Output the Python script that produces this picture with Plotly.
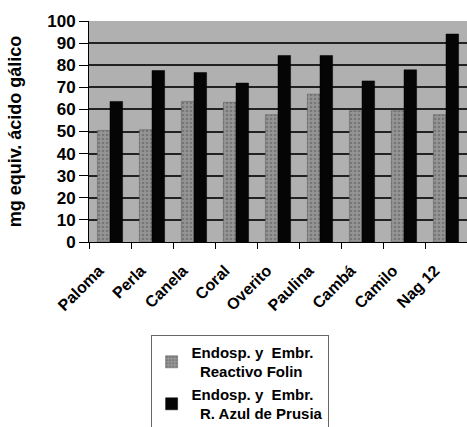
import plotly.graph_objects as go

categories = ["Paloma", "Perla", "Canela", "Coral", "Overito", "Paulina", "Cambá", "Camilo", "Nag 12"]
folin = [50.5, 50.8, 63.6, 63.2, 57.6, 66.9, 59.4, 59.4, 57.6]
prusia = [63.6, 77.6, 76.7, 71.9, 84.4, 84.4, 72.9, 77.9, 94.1]
series_names = ["Endosp. y  Embr.<br>  Reactivo Folin", "Endosp. y  Embr.<br>  R. Azul de Prusia"]
y_ticks = [0, 10, 20, 30, 40, 50, 60, 70, 80, 90, 100]

FONT = "Liberation Sans, Arial, sans-serif"

fig = go.Figure()
fig.add_trace(go.Bar(x=categories, y=folin, name=series_names[0],
                     marker=dict(color="#8a8a8a",
                                 pattern=dict(shape=".", fgcolor="#5a5a5a", bgcolor="#959595",
                                              size=4, solidity=0.35),
                                 line=dict(color="#555555", width=0.5))))
fig.add_trace(go.Bar(x=categories, y=prusia, name=series_names[1],
                     marker=dict(color="#050505", line=dict(color="#000000", width=0.5))))

fig.update_layout(
    width=467, height=427,
    margin=dict(l=89, r=0, t=21, b=185, autoexpand=False),
    paper_bgcolor="white",
    plot_bgcolor="#b0b0b0",
    barmode="group",
    bargap=0.4,
    bargroupgap=0.0,
    font=dict(family=FONT, color="black", weight="bold"),
    legend=dict(
        x=0.163, y=-0.42, xanchor="left", yanchor="top",
        bordercolor="#666666", borderwidth=1, bgcolor="white",
        font=dict(size=15, color="black", weight="bold", family=FONT),
        tracegroupgap=0, itemwidth=30,
    ),
    showlegend=True,
)
fig.update_xaxes(
    tickangle=-45, tickfont=dict(size=16, weight="bold", family=FONT),
    showline=True, linecolor="black", linewidth=1,
    ticks="outside", tickson="boundaries", ticklen=6, tickcolor="black",
    ticklabelshift=-11, ticklabelstandoff=12,
    showgrid=False, automargin=False,
)
fig.update_yaxes(
    range=[0, 100], tickvals=y_ticks,
    tickfont=dict(size=17, weight="bold", family=FONT),
    title=dict(text="mg equiv. ácido gálico", font=dict(size=18, weight="bold", family=FONT), standoff=20),
    showline=True, linecolor="black", linewidth=1, mirror=True,
    ticks="outside", ticklen=9, tickcolor="black",
    gridcolor="#222222", gridwidth=1.5,
    zeroline=False, automargin=False,
)
fig.write_html("out.html")
